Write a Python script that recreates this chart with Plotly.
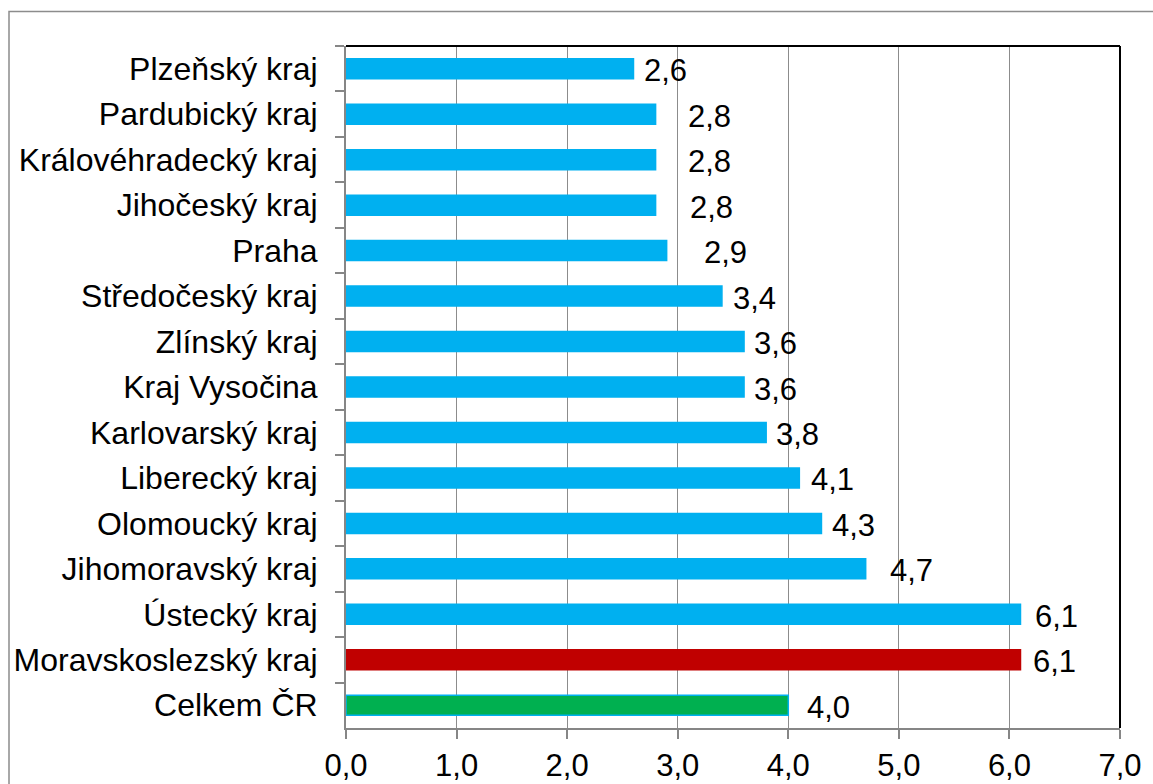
import plotly.graph_objects as go

# data, top-to-bottom order as in the chart
regions = ["Plzeňský kraj", "Pardubický kraj", "Královéhradecký kraj", "Jihočeský kraj",
           "Praha", "Středočeský kraj", "Zlínský kraj", "Kraj Vysočina",
           "Karlovarský kraj", "Liberecký kraj", "Olomoucký kraj", "Jihomoravský kraj",
           "Ústecký kraj", "Moravskoslezský kraj", "Celkem ČR"]
values = [2.6, 2.8, 2.8, 2.8, 2.9, 3.4, 3.6, 3.6, 3.8, 4.1, 4.3, 4.7, 6.1, 6.1, 4.0]
x_ticks = [0, 1, 2, 3, 4, 5, 6, 7]

# styles
BLUE, RED, GREEN = "#00B0F0", "#C00000", "#00B050"
colors = [BLUE] * 13 + [RED, GREEN]
line_colors = [BLUE] * 13 + [RED, BLUE]
label_gap = [9, 30, 30, 32, 35, 9, 8, 8, 8, 10, 9, 22, 13, 11, 17]

FONT = "Liberation Sans, Arial, sans-serif"
FS = 31
FSY = 32

fig = go.Figure(go.Bar(
    y=regions, x=values, orientation="h",
    marker=dict(color=colors, line=dict(color=line_colors, width=1.5)),
    hoverinfo="skip",
))

for r, v, g in zip(regions, values, label_gap):
    fig.add_annotation(x=v, y=r, xref="x", yref="y", text=f"{v:.1f}".replace(".", ","),
                       showarrow=False, xanchor="left", xshift=g, yshift=-2,
                       font=dict(size=FS, color="black", family=FONT))

W, H = 1153, 784
L, R, T, B = 346, 33, 46, 56
pw, ph = W - L - R, H - T - B

# outer gray chart border
fig.add_shape(type="rect", xref="paper", yref="paper",
              x0=(9 - L) / pw, x1=(W + 5 - L) / pw,
              y0=(H - B - (H + 5)) / ph, y1=(H - B - 11.5) / ph,
              line=dict(color="#8c8c8c", width=1.5), fillcolor="rgba(0,0,0,0)", layer="below")
# black top/right plot border
fig.add_shape(type="line", xref="paper", yref="paper", x0=0, x1=1, y0=1, y1=1,
              line=dict(color="black", width=2))
fig.add_shape(type="line", xref="paper", yref="paper", x0=1, x1=1, y0=0, y1=1,
              line=dict(color="black", width=2))

fig.update_layout(
    width=W, height=H,
    margin=dict(l=L, r=R, t=T, b=B, autoexpand=False),
    paper_bgcolor="white", plot_bgcolor="white",
    separators=", ",
    bargap=0.56,
    showlegend=False,
    font=dict(family=FONT, size=FS, color="black"),
    xaxis=dict(range=[0, 7], tickvals=x_ticks, tickformat=".1f",
               showgrid=True, gridcolor="#8c8c8c", gridwidth=1.3,
               showline=True, linecolor="#868686", linewidth=2,
               ticks="outside", ticklen=9, tickcolor="#868686", tickwidth=1.5,
               zeroline=False, fixedrange=True, automargin=False,
               tickfont=dict(size=FS, color="black", family=FONT)),
    yaxis=dict(autorange="reversed", type="category",
               showline=True, linecolor="#868686", linewidth=2,
               ticks="outside", ticklen=9, tickcolor="#868686", tickwidth=1.5,
               tickson="boundaries", showgrid=False, fixedrange=True, automargin=False,
               ticklabelstandoff=20,
               tickfont=dict(size=FSY, color="black", family=FONT)),
)

fig.write_html("out.html", config={"displayModeBar": False},
               post_script="document.body.style.margin='0';document.body.style.overflow='hidden';")
